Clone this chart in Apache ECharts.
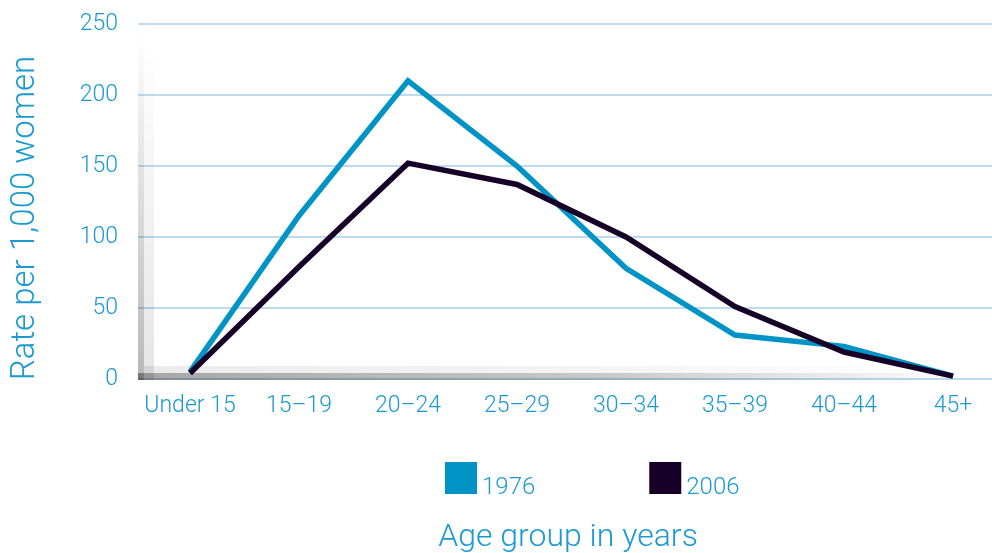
<!DOCTYPE html>
<html>
<head>
<meta charset="utf-8">
<script src="https://cdn.jsdelivr.net/npm/echarts@6/dist/echarts.min.js"></script>
<style>
html,body{margin:0;padding:0;background:#fff;}
#chart{width:992px;height:553px;}
</style>
</head>
<body>
<div id="chart"></div>
<script>
const categories = ['Under 15', '15–19', '20–24', '25–29', '30–34', '35–39', '40–44', '45+'];
const series1976 = [5, 115, 210, 150, 78, 31, 23, 2];
const series2006 = [4, 79, 152, 137, 100, 51, 19, 2];
const seriesNames = ['1976', '2006'];
const yTicks = [0, 50, 100, 150, 200, 250];

const BLUE = '#0093c5';
const DARK = '#170027';
const TEXT = '#1a9ad0';
const FONT = 'Roboto, "Liberation Sans", Arial, sans-serif';

const chart = echarts.init(document.getElementById('chart'));
chart.setOption({
  animation: false,
  backgroundColor: '#fff',
  grid: [
    {left: 138, right: 0, top: 24, bottom: 174},
    {left: 190, right: 39, top: 24, bottom: 174}
  ],
  xAxis: [
    {gridIndex: 0, type: 'category', data: categories, show: false},
    {gridIndex: 1, type: 'category', data: categories, boundaryGap: false,
     axisLine: {show: false}, axisTick: {show: false}, splitLine: {show: false},
     axisLabel: {interval: 0, color: TEXT, fontFamily: FONT, fontWeight: 300, fontSize: 23, margin: 16}}
  ],
  yAxis: [
    {gridIndex: 0, type: 'value', min: yTicks[0], max: yTicks[yTicks.length - 1], interval: 50,
     axisLine: {show: false}, axisTick: {show: false},
     axisLabel: {color: TEXT, fontFamily: FONT, fontWeight: 300, fontSize: 23, margin: 20},
     splitLine: {show: true, lineStyle: {color: '#bcdcee', width: 2}}},
    {gridIndex: 1, type: 'value', min: yTicks[0], max: yTicks[yTicks.length - 1], interval: 50,
     show: false, splitLine: {show: false}}
  ],
  legend: {
    left: 445, top: 462, padding: 0, itemWidth: 32, itemHeight: 32, itemGap: 114,
    icon: 'rect',
    data: seriesNames,
    formatter: '{t|{name}}',
    textStyle: {
      color: TEXT, fontFamily: FONT, fontWeight: 300, fontSize: 24,
      rich: {t: {color: TEXT, fontFamily: FONT, fontWeight: 300, fontSize: 24, padding: [20, 0, 0, 0]}}
    }
  },
  graphic: [
    {type: 'rect', z: 1, shape: {x: 138, y: 30, width: 6, height: 350},
     style: {fill: new echarts.graphic.LinearGradient(0, 0, 0, 1, [
       {offset: 0, color: 'rgba(0,0,0,0)'}, {offset: 1, color: 'rgba(0,0,0,0.28)'}])}},
    {type: 'rect', z: 1, shape: {x: 144, y: 40, width: 10, height: 340},
     style: {fill: new echarts.graphic.LinearGradient(0, 0, 0, 1, [
       {offset: 0, color: 'rgba(0,0,0,0)'}, {offset: 1, color: 'rgba(0,0,0,0.1)'}])}},
    {type: 'rect', z: 1, shape: {x: 138, y: 373, width: 830, height: 7},
     style: {fill: new echarts.graphic.LinearGradient(0, 0, 1, 0, [
       {offset: 0, color: 'rgba(0,0,0,0.35)'}, {offset: 0.55, color: 'rgba(0,0,0,0.22)'}, {offset: 1, color: 'rgba(0,0,0,0)'}])}},
    {type: 'rect', z: 1, shape: {x: 144, y: 366, width: 820, height: 7},
     style: {fill: new echarts.graphic.LinearGradient(0, 0, 1, 0, [
       {offset: 0, color: 'rgba(0,0,0,0.08)'}, {offset: 0.6, color: 'rgba(0,0,0,0.04)'}, {offset: 1, color: 'rgba(0,0,0,0)'}])}},
    {type: 'text', z: 5, x: 26, y: 218, rotation: Math.PI / 2,
     style: {text: 'Rate per 1,000 women', fill: TEXT, font: '300 33px ' + FONT, align: 'center', verticalAlign: 'middle'}},
    {type: 'text', z: 5, x: 568, y: 538,
     style: {text: 'Age group in years', fill: TEXT, font: '300 32px ' + FONT, align: 'center', verticalAlign: 'middle'}}
  ],
  series: [
    {name: seriesNames[0], type: 'line', xAxisIndex: 1, yAxisIndex: 1, data: series1976,
     color: BLUE, symbol: 'none', z: 3, lineStyle: {color: BLUE, width: 5.5, join: 'miter'}},
    {name: seriesNames[1], type: 'line', xAxisIndex: 1, yAxisIndex: 1, data: series2006,
     color: DARK, symbol: 'none', z: 4, lineStyle: {color: DARK, width: 5.5, join: 'miter'}}
  ]
});
</script>
</body>
</html>
